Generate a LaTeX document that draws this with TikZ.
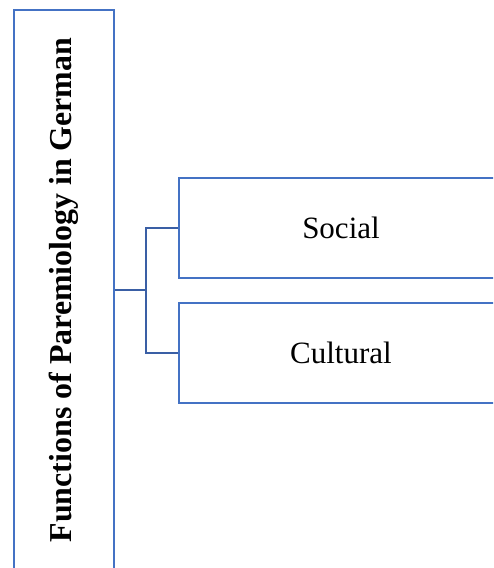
\documentclass[tikz,border=0pt]{standalone}
\usepackage{fontspec}
\setmainfont{Liberation Serif}
\usepackage{tikz}

\definecolor{boxblue}{HTML}{4472C4}
\definecolor{linkblue}{HTML}{3A5FA5}

\tikzset{
  fnbox/.style={draw=boxblue, line width=2pt, inner sep=0pt},
  fnlink/.style={draw=linkblue, line width=2pt}
}

\begin{document}
\begin{tikzpicture}[x=1pt, y=1pt]
    \useasboundingbox (0,0) rectangle (493,568);
    \clip (0,0) rectangle (493,568);

    %% the title box
    \node[fnbox, rotate=90, minimum width=560, minimum height=100,
          font=\fontsize{31.9}{36}\selectfont\bfseries] (title) at (64,278)
      {Functions of Paremiology in German};

    %% the two functions
    \node[fnbox, minimum width=324, minimum height=100,
          font=\fontsize{31}{36}\selectfont] (social) at (341,340) {Social};
    \node[fnbox, minimum width=324, minimum height=100,
          font=\fontsize{31}{36}\selectfont] (cultural) at (341,215) {Cultural};

    %% links
    \coordinate (jun) at (146,278);
    \draw[fnlink] (title.south) -- (jun);
    \draw[fnlink] (social.west) -- (social.west -| jun)
      -- (cultural.west -| jun) -- (cultural.west);

\end{tikzpicture}
\end{document}
